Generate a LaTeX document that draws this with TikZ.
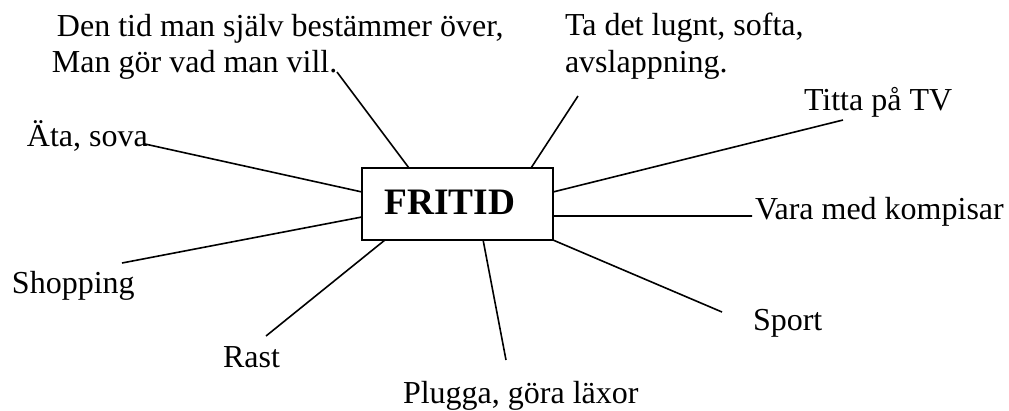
\documentclass[tikz,border=0pt]{standalone}
\usepackage{fontspec}
\setmainfont{Liberation Serif}
\usetikzlibrary{calc}
\tikzset{
  lbl/.style={anchor=base west, inner sep=0pt, outer sep=0pt, font=\fontsize{12pt}{13.5pt}\selectfont},
  mainbox/.style={draw, line width=0.8pt, inner sep=0pt, outer sep=0pt, minimum width=71.625pt, minimum height=27pt},
  title/.style={anchor=base west, inner sep=0pt, font=\fontsize{14pt}{16pt}\selectfont\bfseries},
  conn/.style={line width=0.6pt}
}
\begin{document}
\begin{tikzpicture}[x=0.375pt, y=-0.375pt]
\useasboundingbox (0,0) rectangle (1009,410);
% central box
\node[mainbox] (box) at (457.5,204) {};
\node[title] (fritid) at (384,214) {FRITID};
% labels
\node[lbl] (den1) at (57,36) {Den tid man själv bestämmer över,};
\node[lbl] (den2) at (52,72) {Man gör vad man vill.};
\node[lbl] (ta1) at (565,35) {Ta det lugnt, softa,};
\node[lbl] (ta2) at (565,72) {avslappning.};
\node[lbl] (titta) at (804,110) {Titta på TV};
\node[lbl] (vara) at (755,219) {Vara med kompisar};
\node[lbl] (sport) at (753,330) {Sport};
\node[lbl] (plugga) at (403,403) {Plugga, göra läxor};
\node[lbl] (rast) at (223,367) {Rast};
\node[lbl] (shop) at (12,293) {Shopping};
\node[lbl] (ata) at (27,146) {Äta, sova};
% free ends near labels
\coordinate (cDen) at (337,72);
\coordinate (cTa) at (578,96);
\coordinate (cTitta) at (843,120);
\coordinate (cVara) at (752,216);
\coordinate (cSport) at (722,312);
\coordinate (cPlugga) at (506,360);
\coordinate (cRast) at (266,336);
\coordinate (cShop) at (122,263);
\coordinate (cAta) at (145,144);
% attachment points on the box
\coordinate (bDen) at ($(box.north west)!0.246!(box.north east)$);
\coordinate (bTa) at ($(box.north west)!0.885!(box.north east)$);
\coordinate (bTitta) at ($(box.north east)!0.333!(box.south east)$);
\coordinate (bVara) at ($(box.north east)!0.667!(box.south east)$);
\coordinate (bAta) at ($(box.north west)!0.333!(box.south west)$);
\coordinate (bShop) at ($(box.north west)!0.68!(box.south west)$);
\coordinate (bRast) at ($(box.south west)!0.12!(box.south east)$);
\coordinate (bPlugga) at ($(box.south west)!0.634!(box.south east)$);
% connectors
\draw[conn] (cDen) -- (bDen);
\draw[conn] (cTa) -- (bTa);
\draw[conn] (bTitta) -- (cTitta);
\draw[conn] (bVara) -- (cVara);
\draw[conn] (box.south east) -- (cSport);
\draw[conn] (bPlugga) -- (cPlugga);
\draw[conn] (bRast) -- (cRast);
\draw[conn] (bShop) -- (cShop);
\draw[conn] (bAta) -- (cAta);
\end{tikzpicture}
\end{document}
